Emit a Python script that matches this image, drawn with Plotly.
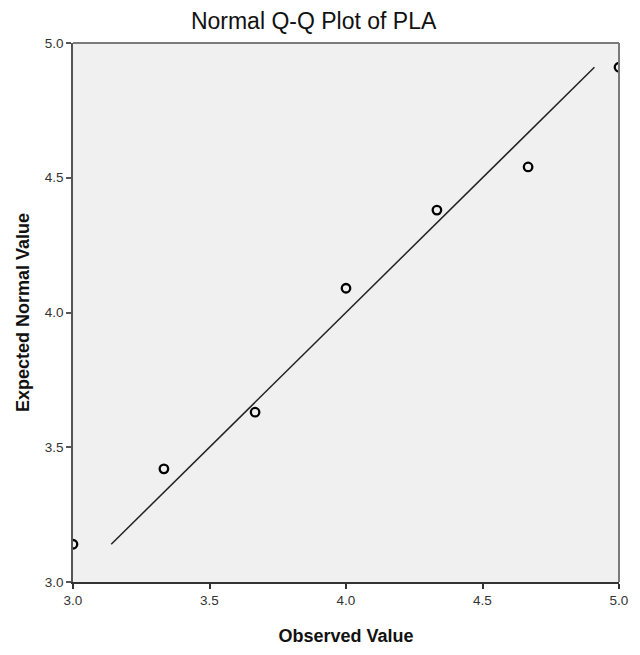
import plotly.graph_objects as go

# Observed scores and their expected normal quantiles
observed = [3.0, 3.333, 3.667, 4.0, 4.333, 4.667, 5.0]
expected = [3.14, 3.42, 3.63, 4.09, 4.38, 4.54, 4.91]

x_ticks = [3.0, 3.5, 4.0, 4.5, 5.0]
y_ticks = [3.0, 3.5, 4.0, 4.5, 5.0]

# Reference line y = x spanning the range of expected values
line_lo = min(expected)
line_hi = max(expected)

font_family = "Liberation Sans, Arial, sans-serif"

fig = go.Figure()

fig.add_trace(go.Scatter(
    x=[line_lo, line_hi], y=[line_lo, line_hi],
    mode="lines",
    line=dict(color="#222222", width=1.5),
    hoverinfo="skip",
))

fig.add_trace(go.Scatter(
    x=observed, y=expected,
    mode="markers",
    marker=dict(symbol="circle-open", size=8.5, color="black",
                line=dict(color="black", width=2.3)),
    cliponaxis=True,
))

fig.update_layout(
    width=640, height=655,
    margin=dict(l=73, r=16, t=43, b=61),
    paper_bgcolor="white",
    plot_bgcolor="#F0F0F0",
    showlegend=False,
    title=dict(text="Normal Q-Q Plot of PLA", x=0.49, xanchor="center",
               y=1 - 21 / 655, yanchor="middle",
               font=dict(family=font_family, size=23, color="#111111")),
    font=dict(family=font_family, color="#333333"),
)

fig.update_xaxes(
    range=[3.0, 5.0], tickvals=x_ticks, ticktext=[f"{v:.1f}" for v in x_ticks],
    showgrid=False, zeroline=False,
    showline=True, linecolor="#333333", linewidth=1.5,
    ticks="outside", ticklen=5, tickcolor="#333333", tickwidth=1.5,
    tickfont=dict(size=13.5, color="#333333"),
    title=dict(text="<b>Observed Value</b>", standoff=22,
               font=dict(size=18, color="#111111")),
)

fig.update_yaxes(
    range=[3.0, 5.0], tickvals=y_ticks, ticktext=[f"{v:.1f}" for v in y_ticks],
    showgrid=False, zeroline=False,
    showline=True, linecolor="#555555", linewidth=1.5,
    ticks="outside", ticklen=5, tickcolor="#555555", tickwidth=1.5,
    tickfont=dict(size=13.5, color="#333333"),
    title=dict(text="<b>Expected Normal Value</b>", standoff=10,
               font=dict(size=18, color="#111111")),
)

# Top and right frame edges
fig.add_shape(type="line", xref="paper", yref="paper", x0=0, x1=1, y0=1, y1=1,
              line=dict(color="#7a7a7a", width=2))
fig.add_shape(type="line", xref="paper", yref="paper", x0=1, x1=1, y0=0, y1=1,
              line=dict(color="#7a7a7a", width=2))

fig.write_html("out.html")
